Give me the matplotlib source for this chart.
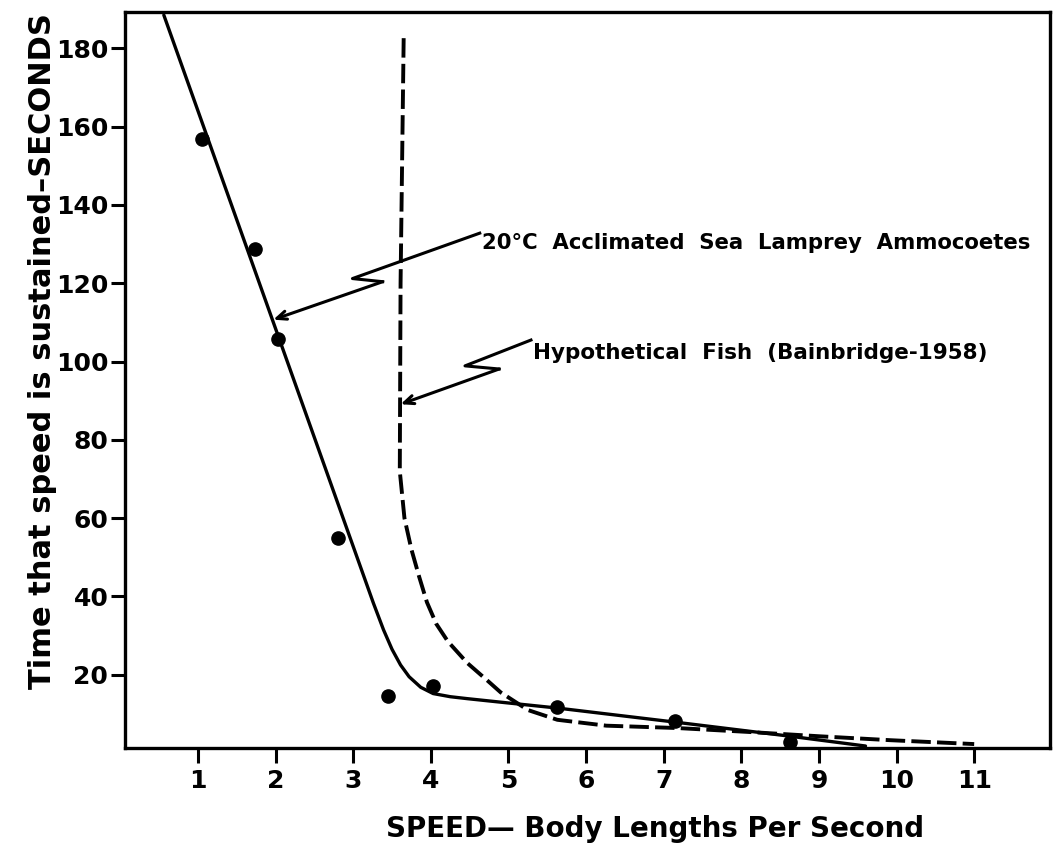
import matplotlib.pyplot as plt

# measured dots (speed in body lengths/s, time in s)
dots_x = [1.05, 1.73, 2.03, 2.80, 3.45, 4.03, 5.63, 7.15, 8.63]
dots_y = [156.9, 128.7, 105.8, 55.0, 14.5, 17.1, 11.8, 8.3, 2.9]

# fitted curve for the lamprey (solid)
lamprey_x = [0.56, 3.26, 3.39, 3.50, 3.61, 3.72, 3.87, 4.03, 4.25, 4.47, 4.90, 5.63, 7.15, 8.63, 9.60]
lamprey_y = [188.5, 38.3, 31.5, 26.5, 22.5, 19.5, 16.8, 15.2, 14.4, 13.9, 13.0, 11.5, 7.9, 4.3, 1.8]

# hypothetical fish (dashed)
fish_x = [3.65, 3.61, 3.60, 3.66, 3.75, 3.85, 3.95, 4.07, 4.22, 4.47, 4.73, 4.90, 5.25, 5.63,
          6.26, 7.17, 8.09, 9.00, 9.91, 11.0]
fish_y = [182.6, 120.0, 72.0, 60.0, 52.0, 45.0, 38.5, 33.0, 28.5, 23.0, 18.5, 15.5, 11.0, 8.5,
          7.0, 6.4, 5.4, 4.3, 3.3, 2.3]

xticks = [1, 2, 3, 4, 5, 6, 7, 8, 9, 10, 11]
yticks = [20, 40, 60, 80, 100, 120, 140, 160, 180]

label1 = "20\u00b0C  Acclimated  Sea  Lamprey  Ammocoetes"
label2 = "Hypothetical  Fish  (Bainbridge-1958)"
# zig-zag leader lines: start at text, two kinks, arrow tip
lead1_x = [4.63, 2.99, 3.38, 1.97]
lead1_y = [132.8, 121.2, 120.4, 110.7]
lead2_x = [5.29, 4.44, 4.88, 3.61]
lead2_y = [105.5, 98.9, 98.1, 89.1]

plt.rcParams['font.family'] = ['DejaVu Sans']
plt.rcParams['font.weight'] = 'bold'

fig = plt.figure(figsize=(10.55, 8.47), dpi=100)
ax = fig.add_axes([0.1185, 0.1169, 0.877, 0.869])

ax.plot(lamprey_x, lamprey_y, color='black', linewidth=2.4, solid_capstyle='round')
ax.plot(fish_x, fish_y, color='black', linewidth=2.8, linestyle=(0, (5, 1.6)))
ax.plot(dots_x, dots_y, 'o', color='black', markersize=9.5)

for lx, ly in [(lead1_x, lead1_y), (lead2_x, lead2_y)]:
    ax.plot(lx[:3], ly[:3], color='black', linewidth=2.2)
    ax.annotate('', xy=(lx[3], ly[3]), xytext=(lx[2], ly[2]),
                arrowprops=dict(arrowstyle='->,head_length=0.7,head_width=0.3',
                                color='black', lw=2.2, shrinkA=0, shrinkB=0))

ax.text(4.66, 130.2, label1, fontsize=15.3, fontweight='bold', va='center', ha='left')
ax.text(5.31, 102.3, label2, fontsize=15.5, fontweight='bold', va='center', ha='left')

ax.set_xlim(0.06, 11.98)
ax.set_ylim(1.3, 189.3)
ax.set_xticks(xticks)
ax.set_yticks(yticks)
ax.set_xticklabels([str(v) for v in xticks])
ax.set_yticklabels([str(v) for v in yticks])
ax.tick_params(axis='both', direction='out', width=2.2, labelsize=18)
ax.tick_params(axis='x', length=11, pad=4)
ax.tick_params(axis='y', length=10, pad=2)
for s in ax.spines.values():
    s.set_linewidth(2.4)

ax.set_xlabel("SPEED\u2014 Body Lengths Per Second", fontsize=20, fontweight='bold')
ax.xaxis.set_label_coords(0.573, -0.091)
ax.set_ylabel("Time that speed is sustained\u2013SECONDS", fontsize=22, fontweight='bold')
ax.yaxis.set_label_coords(-0.074, 0.539)

plt.savefig('out.png', dpi=100)
plt.close()
